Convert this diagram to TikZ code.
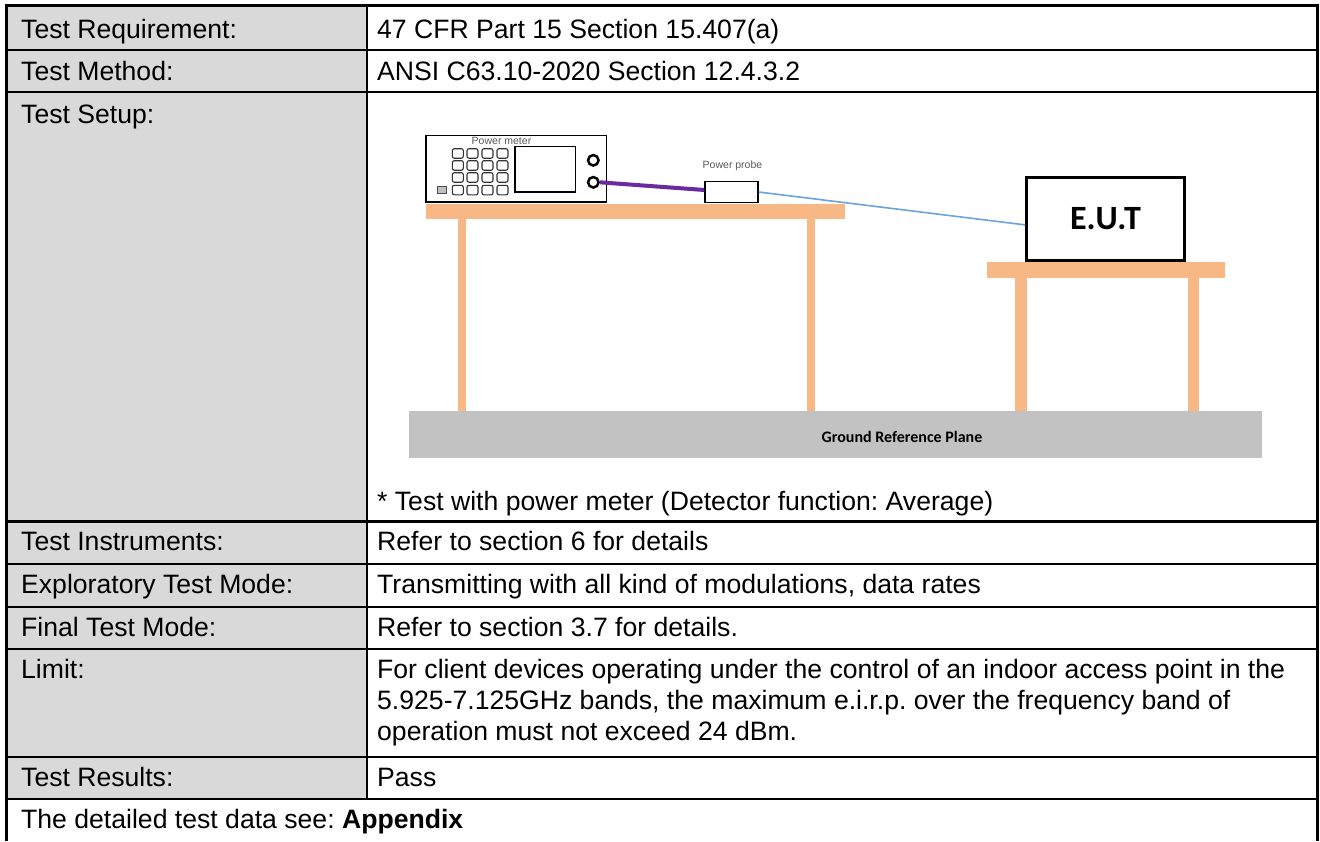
\documentclass[tikz,border=0pt]{standalone}
\usepackage{fontspec}
\setmainfont{Liberation Sans}
\newfontfamily\calibrifont{Carlito}
\definecolor{cellgray}{HTML}{D9D9D9}
\definecolor{wood}{HTML}{F7B886}
\definecolor{plane}{HTML}{C2C2C2}
\definecolor{cablepurple}{HTML}{6A2AA0}
\definecolor{cableblue}{HTML}{6CA4DA}
\definecolor{labelgray}{HTML}{5A5A5A}
\frenchspacing
\begin{document}
\begin{tikzpicture}[x=1pt,y=-1pt,
  txt/.style={anchor=base west,inner sep=0pt,font=\fontsize{26.6}{31}\selectfont},
  rule/.style={line width=2.2pt,black},
  outer/.style={line width=3pt,black},
  woodpart/.style={fill=wood,draw=none},
  btn/.style={draw=black!80,line width=1.1pt,rounded corners=2pt},
  knobst/.style={circle,draw=black,line width=2.5pt,inner sep=0pt,minimum size=10.5pt},
  tiny/.style={inner sep=0pt,text=labelgray,font=\fontsize{10.5}{11}\selectfont},
  boxst/.style={draw=black,inner sep=0pt},
]
\useasboundingbox (0,0) rectangle (1320,841);
\fill[white] (0,0) rectangle (1320,841);
% gray label column
\fill[cellgray] (6.5,5) rectangle (367,799);

% ---------- setup drawing ----------
% tables
\fill[woodpart] (426,204) rectangle (845,219);
\fill[woodpart] (458,219) rectangle (465.5,412);
\fill[woodpart] (807,219) rectangle (815,412);
\fill[woodpart] (987,262) rectangle (1225,278);
\fill[woodpart] (1015,278) rectangle (1027,412);
\fill[woodpart] (1188,278) rectangle (1199,412);
% ground plane
\node[fill=plane,inner sep=0pt,minimum width=853pt,minimum height=47pt] (gnd) at (835.5,434.5) {};
\node[inner sep=0pt,font=\calibrifont\bfseries\fontsize{16}{18}\selectfont] (gndlabel) at (902,437) {Ground Reference Plane};

% power meter
\node[boxst,line width=1.5pt,minimum width=180.7pt,minimum height=66.7pt] (pm) at (516.3,168.7) {};
\node[boxst,line width=1.5pt,minimum width=60.7pt,minimum height=45.7pt] (screen) at (545.3,169.2) {};
\node[tiny] (pmlabel) at (501.5,141.3) {Power meter};
\foreach \cx in {452.3,467,482,497}{
  \foreach \cy in {148.7,160.7,172.7,185.3}{
    \draw[btn] (\cx,\cy) rectangle ++(11,9.5);
  }
}
\draw[draw=black!70,fill=black!25,line width=0.8pt] (437,186.3) rectangle (446,193);
\node[knobst] (k1) at (593.3,160.3) {};
\node[knobst] (k2) at (593.3,182.3) {};

% power probe
\node[boxst,line width=1.3pt,minimum width=53pt,minimum height=20.6pt] (probe) at (731.5,192) {};
\node[tiny] (probelabel) at (732.5,166) {Power probe};

% EUT
\node[boxst,line width=3pt,minimum width=157.6pt,minimum height=82.3pt,
      font=\calibrifont\bfseries\fontsize{34}{36}\selectfont] (eut) at (1105.5,218.9) {E.U.T};

% cables
\draw[cablepurple,line width=4pt] (k2.east) -- ([yshift=2pt]probe.west);
\draw[cableblue,line width=1.6pt] (probe.east) -- ([yshift=-6pt]eut.west);

% ---------- table rules ----------
\foreach \yy in {50,92,521.5,564,607,649,757,799}{
  \draw[rule] (6.5,\yy) -- (1317.5,\yy);
}
\draw[rule] (367,5) -- (367,799);
\draw[outer] (6.5,5) -- (1317.5,5);
\draw[outer] (6.5,3.5) -- (6.5,841);
\draw[outer] (1317.5,3.5) -- (1317.5,841);

% ---------- texts ----------
\node[txt] (l1) at (21,38) {Test Requirement:};
\node[txt] (r1) at (377,38) {47 CFR Part 15 Section 15.407(a)};
\node[txt] (l2) at (21,80) {Test Method:};
\node[txt] (r2) at (377,80) {ANSI C63.10-2020 Section 12.4.3.2};
\node[txt] (l3) at (21,123) {Test Setup:};
\node[txt] (r3) at (377,510) {* Test with power meter (Detector function: Average)};
\node[txt] (l4) at (21,550.5) {Test Instruments:};
\node[txt] (r4) at (377,550.5) {Refer to section 6 for details};
\node[txt] (l5) at (21,593) {Exploratory Test Mode:};
\node[txt] (r5) at (377,593) {Transmitting with all kind of modulations, data rates};
\node[txt] (l6) at (21,636) {Final Test Mode:};
\node[txt] (r6) at (377,636) {Refer to section 3.7 for details.};
\node[txt] (l7) at (21,678) {Limit:};
\node[txt] (r7a) at (377,678) {For client devices operating under the control of an indoor access point in the};
\node[txt] (r7b) at (377,709) {5.925-7.125GHz bands, the maximum e.i.r.p. over the frequency band of};
\node[txt] (r7c) at (377,740) {operation must not exceed 24 dBm.};
\node[txt] (l8) at (21,786) {Test Results:};
\node[txt] (r8) at (377,786) {Pass};
\node[txt] (l9) at (21,828) {The detailed test data see: \textbf{Appendix}};
\end{tikzpicture}
\end{document}
